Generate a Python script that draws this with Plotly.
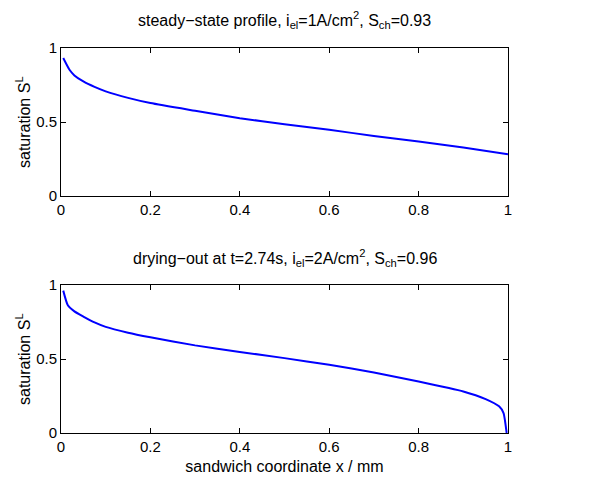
import plotly.graph_objects as go
from plotly.subplots import make_subplots

# steady-state profile (top)
x_top = [0.005, 0.019, 0.03, 0.05, 0.075, 0.1, 0.15, 0.2, 0.3, 0.4, 0.5, 0.6, 0.7, 0.8, 0.9, 1.0]
s_top = [0.932, 0.853, 0.815, 0.774, 0.737, 0.707, 0.663, 0.628, 0.576, 0.526, 0.485, 0.447, 0.406, 0.368, 0.327, 0.282]

# drying-out profile (bottom)
x_bot = [0.005, 0.015, 0.03, 0.05, 0.075, 0.1, 0.15, 0.2, 0.3, 0.4, 0.5, 0.6, 0.7, 0.8, 0.9, 0.95, 0.98, 0.99, 0.997]
s_bot = [0.962, 0.865, 0.822, 0.787, 0.747, 0.717, 0.678, 0.647, 0.592, 0.548, 0.506, 0.461, 0.409, 0.348, 0.281, 0.229, 0.18, 0.135, 0.0]

x_ticks = [0, 0.2, 0.4, 0.6, 0.8, 1]
x_tick_text = ["0", "0.2", "0.4", "0.6", "0.8", "1"]
y_ticks = [0, 0.5, 1]
y_tick_text = ["0", "0.5", "1"]

title_top = "steady−state profile, i<sub>el</sub>=1A/cm<sup>2</sup>, S<sub>ch</sub>=0.93"
title_bot = "drying−out at t=2.74s, i<sub>el</sub>=2A/cm<sup>2</sup>, S<sub>ch</sub>=0.96"
ylabel = "saturation S<sup>L</sup>"
xlabel = "sandwich coordinate x / mm"

FONT = "Liberation Sans, Arial, Helvetica, sans-serif"

fig = make_subplots(rows=2, cols=1)
fig.add_trace(go.Scatter(x=x_top, y=s_top, mode="lines",
                         line=dict(color="#0000ff", width=2, shape="spline", smoothing=0.6)), row=1, col=1)
fig.add_trace(go.Scatter(x=x_bot, y=s_bot, mode="lines",
                         line=dict(color="#0000ff", width=2, shape="spline", smoothing=0.5)), row=2, col=1)

ax_common = dict(showline=True, linecolor="black", linewidth=1, mirror="ticks",
                 ticks="inside", ticklen=5, tickcolor="black", showgrid=False, zeroline=False,
                 automargin=False,
                 tickfont=dict(family=FONT, size=15, color="black"))

fig.update_xaxes(range=[0, 1], tickvals=x_ticks, ticktext=x_tick_text, **ax_common)
fig.update_yaxes(range=[0, 1], tickvals=y_ticks, ticktext=y_tick_text, **ax_common)
fig.update_xaxes(title=dict(text=xlabel, font=dict(family=FONT, size=16, color="black"), standoff=6), row=2, col=1)

TOP_LO, TOP_HI = 0.6156, 1.0
BOT_LO, BOT_HI = 0.0, 0.3844

fig.update_layout(
    width=600, height=480,
    margin=dict(l=53, r=100, t=40, b=55),
    paper_bgcolor="white", plot_bgcolor="white",
    showlegend=False,
    xaxis=dict(domain=[0, 1]), yaxis=dict(domain=[TOP_LO, TOP_HI]),
    xaxis2=dict(domain=[0, 1]), yaxis2=dict(domain=[BOT_LO, BOT_HI]),
    annotations=[
        dict(text=title_top, x=0.5, y=TOP_HI, xref="paper", yref="paper", yshift=28,
             xanchor="center", yanchor="middle", showarrow=False,
             font=dict(family=FONT, size=16, color="black")),
        dict(text=title_bot, x=0.5, y=BOT_HI, xref="paper", yref="paper", yshift=27,
             xanchor="center", yanchor="middle", showarrow=False,
             font=dict(family=FONT, size=16, color="black")),
        dict(text=ylabel, x=0, y=(TOP_LO + TOP_HI) / 2, xref="paper", yref="paper", xshift=-38,
             xanchor="center", yanchor="middle", textangle=-90, showarrow=False,
             font=dict(family=FONT, size=16, color="black")),
        dict(text=ylabel, x=0, y=(BOT_LO + BOT_HI) / 2, xref="paper", yref="paper", xshift=-38,
             xanchor="center", yanchor="middle", textangle=-90, showarrow=False,
             font=dict(family=FONT, size=16, color="black")),
    ],
)

fig.write_html("out.html")
